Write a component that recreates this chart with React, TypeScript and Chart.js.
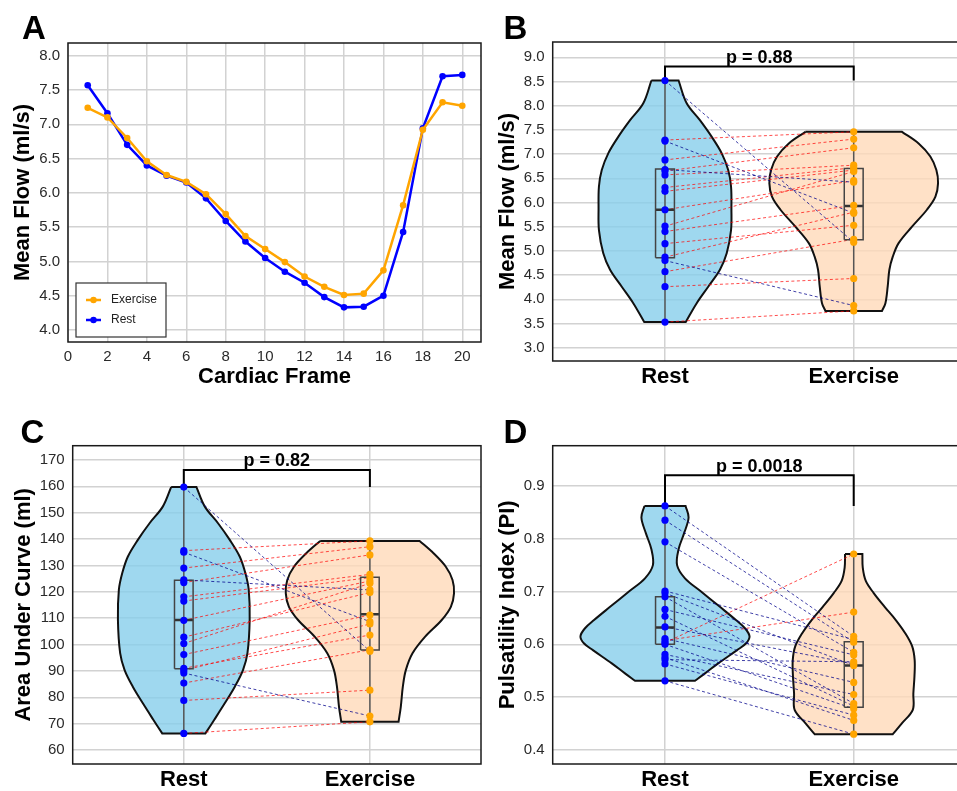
import React, { useEffect, useRef } from 'react';
import { Chart, registerables } from 'chart.js';

Chart.register(...registerables);

const FONT = '"Liberation Sans", Arial, Helvetica, sans-serif';
const BLUE = '#0000FF';
const ORANGE = '#FFA500';
const GRID = '#d2d2d2';
const TICK = '#2a2a2a';
const RED_PAIR = 'rgba(255,0,0,0.7)';
const NAVY_PAIR = 'rgba(0,0,139,0.75)';
const REST_FILL = 'rgba(135,206,235,0.8)';
const EX_FILL = 'rgba(255,218,185,0.8)';
const BOX_HALF = 0.05;

// ---------------- Panel A : mean flow over the cardiac cycle ----------------
const cardiacFrames = [1, 2, 3, 4, 5, 6, 7, 8, 9, 10, 11, 12, 13, 14, 15, 16, 17, 18, 19, 20];
const exerciseCurve = [7.24, 7.10, 6.80, 6.46, 6.26, 6.16, 5.98, 5.69, 5.37, 5.18, 4.99, 4.78, 4.63, 4.51, 4.53, 4.87, 5.82, 6.92, 7.32, 7.27];
const restCurve = [7.57, 7.16, 6.70, 6.40, 6.25, 6.15, 5.92, 5.59, 5.29, 5.05, 4.85, 4.69, 4.48, 4.33, 4.34, 4.50, 5.43, 6.94, 7.70, 7.72];
const frameTicks = [0, 2, 4, 6, 8, 10, 12, 14, 16, 18, 20];
const curveTicks = [4.0, 4.5, 5.0, 5.5, 6.0, 6.5, 7.0, 7.5, 8.0];

// ---------------- shared categories ----------------
const groups = ['Rest', 'Exercise'];

// ---------------- Panel B : mean flow ----------------
const flowRest = [8.52, 7.29, 7.27, 6.88, 6.68, 6.65, 6.57, 6.31, 6.23, 5.85, 5.51, 5.40, 5.15, 4.87, 4.80, 4.57, 4.26, 3.53];
const flowExercise = [5.18, 7.46, 5.78, 7.31, 6.42, 7.13, 6.77, 6.72, 6.67, 6.45, 6.64, 5.94, 5.53, 5.80, 3.87, 5.24, 4.43, 3.76];
const flowRestBox = [4.86, 5.85, 6.69];
const flowExerciseBox = [5.23, 5.93, 6.70];
const flowRestViolinY = [8.52, 8.05, 7.70, 7.36, 7.02, 6.67, 6.33, 5.88, 5.43, 4.95, 4.61, 4.26, 3.92, 3.53];
const flowRestViolinW = [0.072, 0.115, 0.185, 0.247, 0.300, 0.335, 0.350, 0.352, 0.350, 0.327, 0.291, 0.229, 0.168, 0.110];
const flowExViolinY = [7.46, 7.22, 6.95, 6.67, 6.40, 6.12, 5.85, 5.50, 5.16, 4.88, 4.61, 4.26, 3.92, 3.76];
const flowExViolinW = [0.256, 0.344, 0.406, 0.438, 0.447, 0.433, 0.388, 0.309, 0.238, 0.207, 0.189, 0.180, 0.168, 0.150];
const flowTicks = [3.0, 3.5, 4.0, 4.5, 5.0, 5.5, 6.0, 6.5, 7.0, 7.5, 8.0, 8.5, 9.0];
const flowBracket = [8.52, 8.81];
const flowP = 'p = 0.88';

// ---------------- Panel C : area under curve ----------------
const aucRest = [159.7, 135.6, 135.0, 129.0, 124.5, 123.5, 118.1, 116.5, 109.2, 102.8, 100.4, 96.2, 91.0, 90.2, 89.2, 85.4, 78.8, 66.3];
const aucExercise = [97.5, 139.3, 108.7, 137.1, 120.7, 134.0, 126.6, 125.4, 124.1, 119.7, 123.2, 111.2, 103.6, 107.8, 72.9, 98.0, 82.7, 70.7];
const aucRestBox = [90.8, 109.3, 124.4];
const aucExerciseBox = [97.9, 111.5, 125.5];
const aucRestViolinY = [159.7, 152.3, 146.0, 139.7, 133.3, 127.0, 120.7, 109.3, 96.7, 90.3, 84.0, 77.7, 71.4, 66.3];
const aucRestViolinW = [0.068, 0.113, 0.184, 0.247, 0.301, 0.331, 0.349, 0.354, 0.342, 0.318, 0.274, 0.220, 0.163, 0.116];
const aucExViolinY = [139.3, 134.6, 129.5, 124.5, 119.4, 114.3, 109.3, 103.0, 96.7, 90.3, 84.0, 76.4, 70.7];
const aucExViolinW = [0.267, 0.342, 0.408, 0.444, 0.452, 0.435, 0.386, 0.297, 0.229, 0.193, 0.177, 0.166, 0.154];
const aucTicks = [60, 70, 80, 90, 100, 110, 120, 130, 140, 150, 160, 170];
const aucBracket = [159.7, 166.2];
const aucP = 'p = 0.82';

// ---------------- Panel D : pulsatility index ----------------
const piRest = [0.862, 0.835, 0.794, 0.701, 0.697, 0.690, 0.666, 0.653, 0.633, 0.611, 0.607, 0.603, 0.600, 0.581, 0.575, 0.571, 0.563, 0.531];
const piExercise = [0.615, 0.604, 0.585, 0.609, 0.560, 0.488, 0.580, 0.483, 0.563, 0.528, 0.661, 0.771, 0.478, 0.505, 0.456, 0.567, 0.466, 0.430];
const piRestBox = [0.600, 0.632, 0.690];
const piExerciseBox = [0.481, 0.560, 0.605];
const piRestViolinY = [0.862, 0.840, 0.810, 0.780, 0.750, 0.725, 0.700, 0.671, 0.646, 0.630, 0.615, 0.602, 0.589, 0.564, 0.545, 0.531];
const piRestViolinW = [0.109, 0.125, 0.101, 0.072, 0.064, 0.106, 0.191, 0.291, 0.376, 0.425, 0.448, 0.430, 0.382, 0.282, 0.212, 0.159];
const piExViolinY = [0.771, 0.745, 0.720, 0.697, 0.671, 0.646, 0.621, 0.596, 0.570, 0.540, 0.507, 0.476, 0.450, 0.430];
const piExViolinW = [0.046, 0.048, 0.064, 0.106, 0.164, 0.223, 0.273, 0.310, 0.323, 0.322, 0.316, 0.313, 0.254, 0.207];
const piTicks = [0.4, 0.5, 0.6, 0.7, 0.8, 0.9];
const piBracket = [0.862, 0.92];
const piP = 'p = 0.0018';

type Pt = { x: number; y: number };

function violinOutline(center: number, ys: number[], ws: number[]): Pt[] {
  const n = ys.length;
  const pts: Pt[] = [];
  pts.push({ x: center - ws[0], y: ys[0] });
  pts.push({ x: center + ws[0], y: ys[0] });
  for (let i = 0; i < n; i++) pts.push({ x: center + ws[i], y: ys[i] });
  pts.push({ x: center + ws[n - 1], y: ys[n - 1] });
  pts.push({ x: center - ws[n - 1], y: ys[n - 1] });
  for (let i = n - 1; i >= 0; i--) pts.push({ x: center - ws[i], y: ys[i] });
  return pts;
}

const framePlugin = {
  id: 'frame',
  afterDatasetsDraw(chart: any) {
    const { ctx, chartArea: a } = chart;
    ctx.save();
    ctx.strokeStyle = '#1a1a1a';
    ctx.lineWidth = 1.5;
    ctx.strokeRect(a.left, a.top, a.right - a.left, a.bottom - a.top);
    ctx.restore();
  },
};

function pLabelPlugin(text: string, bracket: number[]) {
  return {
    id: 'pLabel',
    afterDatasetsDraw(chart: any) {
      const { ctx } = chart;
      const x = chart.scales.x.getPixelForValue(0.5);
      const y = chart.scales.y.getPixelForValue(bracket[1]);
      ctx.save();
      ctx.font = `bold 18px ${FONT}`;
      ctx.fillStyle = '#000';
      ctx.textAlign = 'center';
      ctx.textBaseline = 'alphabetic';
      ctx.fillText(text, x, y - 3.5);
      ctx.restore();
    },
  };
}

const insideLegendPlugin = {
  id: 'insideLegend',
  afterDatasetsDraw(chart: any) {
    const { ctx, chartArea: a } = chart;
    const x0 = a.left + 8;
    const y0 = a.bottom - 59;
    const w = 90;
    const h = 54;
    ctx.save();
    ctx.fillStyle = '#fff';
    ctx.fillRect(x0, y0, w, h);
    ctx.strokeStyle = '#333';
    ctx.lineWidth = 1.2;
    ctx.strokeRect(x0, y0, w, h);
    chart.data.datasets.forEach((ds: any, i: number) => {
      const cy = y0 + 17 + i * 20;
      ctx.strokeStyle = ds.borderColor;
      ctx.lineWidth = 2.5;
      ctx.beginPath();
      ctx.moveTo(x0 + 10, cy);
      ctx.lineTo(x0 + 25, cy);
      ctx.stroke();
      ctx.fillStyle = ds.borderColor;
      ctx.beginPath();
      ctx.arc(x0 + 17.5, cy, 3.2, 0, Math.PI * 2);
      ctx.fill();
      ctx.fillStyle = '#222';
      ctx.font = `12px ${FONT}`;
      ctx.textAlign = 'left';
      ctx.textBaseline = 'middle';
      ctx.fillText(ds.label, x0 + 35, cy);
    });
    ctx.restore();
  },
};

function yTitle(text: string, padTop: number) {
  return { display: true, text, color: '#000', font: { family: FONT, size: 22, weight: 'bold' }, padding: { top: padTop, bottom: 0 } };
}

function configA(): any {
  return {
    type: 'line',
    data: {
      datasets: [
        {
          label: 'Exercise',
          data: cardiacFrames.map((f, i) => ({ x: f, y: exerciseCurve[i] })),
          borderColor: ORANGE, backgroundColor: ORANGE, pointBackgroundColor: ORANGE,
          borderWidth: 2.5, pointRadius: 3.3, pointBorderWidth: 0, tension: 0,
        },
        {
          label: 'Rest',
          data: cardiacFrames.map((f, i) => ({ x: f, y: restCurve[i] })),
          borderColor: BLUE, backgroundColor: BLUE, pointBackgroundColor: BLUE,
          borderWidth: 2.5, pointRadius: 3.3, pointBorderWidth: 0, tension: 0,
        },
      ],
    },
    options: {
      responsive: false, animation: false, events: [],
      layout: { padding: { top: 43, right: 3.3, left: 0, bottom: 0 } },
      plugins: { legend: { display: false }, tooltip: { enabled: false } },
      scales: {
        x: {
          type: 'linear', min: 0, max: 20.95,
          afterBuildTicks: (s: any) => { s.ticks = frameTicks.map((v) => ({ value: v })); },
          afterFit: (s: any) => { s.height = 58; },
          ticks: { autoSkip: false, maxRotation: 0, color: TICK, font: { family: FONT, size: 15 }, padding: 6, callback: (v: any) => String(v) },
          grid: { color: GRID, lineWidth: 1.5, drawTicks: false },
          border: { display: false },
          title: { display: true, text: 'Cardiac Frame', color: '#000', font: { family: FONT, size: 22, weight: 'bold' }, padding: { top: 0, bottom: 10 } },
        },
        y: {
          type: 'linear', min: 3.825, max: 8.185,
          afterBuildTicks: (s: any) => { s.ticks = curveTicks.map((v) => ({ value: v })); },
          afterFit: (s: any) => { s.width = 68; },
          ticks: { autoSkip: false, color: TICK, font: { family: FONT, size: 15 }, padding: 8, callback: (v: any) => Number(v).toFixed(1) },
          grid: { color: GRID, lineWidth: 1.5, drawTicks: false },
          border: { display: false },
          title: yTitle('Mean Flow (ml/s)', 10),
        },
      },
    },
    plugins: [framePlugin, insideLegendPlugin],
  };
}

type ViolinSpec = {
  rest: number[]; exercise: number[];
  restBox: number[]; exBox: number[];
  restVY: number[]; restVW: number[]; exVY: number[]; exVW: number[];
  ticks: number[]; decimals: number; yMin: number; yMax: number;
  title: string; titlePad: number; p: string; bracket: number[];
  padTop: number; padRight: number; yWidth: number; xHeight: number;
  xMin: number; xMax: number;
};

function violinConfig(s: ViolinSpec): any {
  const datasets: any[] = [];
  datasets.push({ data: s.rest.map((v) => ({ x: 0, y: v })), showLine: false, pointRadius: 3.6, pointBorderWidth: 0, pointBackgroundColor: BLUE, order: 0 });
  datasets.push({ data: s.exercise.map((v) => ({ x: 1, y: v })), showLine: false, pointRadius: 3.6, pointBorderWidth: 0, pointBackgroundColor: ORANGE, order: 0 });
  const sets = [
    { c: 0, vals: s.rest, box: s.restBox },
    { c: 1, vals: s.exercise, box: s.exBox },
  ];
  sets.forEach(({ c, vals, box }) => {
    const [q1, med, q3] = box;
    datasets.push({
      data: [{ x: c - BOX_HALF, y: q1 }, { x: c + BOX_HALF, y: q1 }, { x: c + BOX_HALF, y: q3 }, { x: c - BOX_HALF, y: q3 }, { x: c - BOX_HALF, y: q1 }],
      borderColor: '#444', borderWidth: 1.5, pointRadius: 0, tension: 0, fill: false, order: 1,
    });
    datasets.push({ data: [{ x: c - BOX_HALF, y: med }, { x: c + BOX_HALF, y: med }], borderColor: '#333', borderWidth: 2.5, pointRadius: 0, fill: false, order: 1 });
    datasets.push({ data: [{ x: c, y: Math.min(...vals) }, { x: c, y: Math.max(...vals) }], borderColor: '#555', borderWidth: 1.5, pointRadius: 0, fill: false, order: 1 });
  });
  s.rest.forEach((r, i) => {
    const e = s.exercise[i];
    datasets.push({
      data: [{ x: 0, y: r }, { x: 1, y: e }],
      borderColor: e >= r ? RED_PAIR : NAVY_PAIR, borderWidth: 1, borderDash: [3, 2.5], pointRadius: 0, fill: false, order: 2,
    });
  });
  datasets.push({ data: violinOutline(0, s.restVY, s.restVW), fill: 'shape', backgroundColor: REST_FILL, borderColor: '#111', borderWidth: 2, tension: 0.35, pointRadius: 0, order: 3 });
  datasets.push({ data: violinOutline(1, s.exVY, s.exVW), fill: 'shape', backgroundColor: EX_FILL, borderColor: '#111', borderWidth: 2, tension: 0.35, pointRadius: 0, order: 3 });
  datasets.push({
    data: [{ x: 0, y: s.bracket[0] }, { x: 0, y: s.bracket[1] }, { x: 1, y: s.bracket[1] }, { x: 1, y: s.bracket[0] }],
    borderColor: '#000', borderWidth: 2, pointRadius: 0, tension: 0, fill: false, order: 4,
  });

  return {
    type: 'line',
    data: { datasets },
    options: {
      responsive: false, animation: false, events: [],
      layout: { padding: { top: s.padTop, right: s.padRight, left: 0, bottom: 0 } },
      plugins: { legend: { display: false }, tooltip: { enabled: false } },
      scales: {
        x: {
          type: 'linear', min: s.xMin, max: s.xMax,
          afterBuildTicks: (sc: any) => { sc.ticks = groups.map((_, i) => ({ value: i })); },
          afterFit: (sc: any) => { sc.height = s.xHeight; },
          ticks: { autoSkip: false, maxRotation: 0, color: '#000', font: { family: FONT, size: 22, weight: 'bold' }, padding: 3, callback: (v: any) => groups[Math.round(Number(v))] },
          grid: { color: GRID, lineWidth: 1.5, drawTicks: false },
          border: { display: false },
        },
        y: {
          type: 'linear', min: s.yMin, max: s.yMax,
          afterBuildTicks: (sc: any) => { sc.ticks = s.ticks.map((v) => ({ value: v })); },
          afterFit: (sc: any) => { sc.width = s.yWidth; },
          ticks: { autoSkip: false, color: TICK, font: { family: FONT, size: 15 }, padding: 8, callback: (v: any) => Number(v).toFixed(s.decimals) },
          grid: { color: GRID, lineWidth: 1.5, drawTicks: false },
          border: { display: false },
          title: yTitle(s.title, s.titlePad),
        },
      },
    },
    plugins: [framePlugin, pLabelPlugin(s.p, s.bracket)],
  };
}

const specB: ViolinSpec = {
  rest: flowRest, exercise: flowExercise, restBox: flowRestBox, exBox: flowExerciseBox,
  restVY: flowRestViolinY, restVW: flowRestViolinW, exVY: flowExViolinY, exVW: flowExViolinW,
  ticks: flowTicks, decimals: 1, yMin: 2.725, yMax: 9.316,
  title: 'Mean Flow (ml/s)', titlePad: 14.5, p: flowP, bracket: flowBracket,
  padTop: 42, padRight: 9, yWidth: 72.7, xHeight: 39, xMin: -0.595, xMax: 1.595,
};
const specC: ViolinSpec = {
  rest: aucRest, exercise: aucExercise, restBox: aucRestBox, exBox: aucExerciseBox,
  restVY: aucRestViolinY, restVW: aucRestViolinW, exVY: aucExViolinY, exVW: aucExViolinW,
  ticks: aucTicks, decimals: 0, yMin: 54.7, yMax: 175.4,
  title: 'Area Under Curve (ml)', titlePad: 10.3, p: aucP, bracket: aucBracket,
  padTop: 45.7, padRight: 3.5, yWidth: 72.7, xHeight: 27, xMin: -0.597, xMax: 1.597,
};
const specD: ViolinSpec = {
  rest: piRest, exercise: piExercise, restBox: piRestBox, exBox: piExerciseBox,
  restVY: piRestViolinY, restVW: piRestViolinW, exVY: piExViolinY, exVW: piExViolinW,
  ticks: piTicks, decimals: 1, yMin: 0.3735, yMax: 0.976,
  title: 'Pulsatility Index (PI)', titlePad: 14.5, p: piP, bracket: piBracket,
  padTop: 45.7, padRight: 9, yWidth: 72.7, xHeight: 27, xMin: -0.595, xMax: 1.595,
};

const letterStyle: React.CSSProperties = {
  position: 'absolute', fontSize: 33, lineHeight: '33px', fontWeight: 'bold', color: '#000', fontFamily: FONT,
};

export default function App() {
  const refA = useRef<HTMLCanvasElement>(null);
  const refB = useRef<HTMLCanvasElement>(null);
  const refC = useRef<HTMLCanvasElement>(null);
  const refD = useRef<HTMLCanvasElement>(null);

  useEffect(() => {
    const charts = [
      new Chart(refA.current as HTMLCanvasElement, configA()),
      new Chart(refB.current as HTMLCanvasElement, violinConfig(specB)),
      new Chart(refC.current as HTMLCanvasElement, violinConfig(specC)),
      new Chart(refD.current as HTMLCanvasElement, violinConfig(specD)),
    ];
    return () => charts.forEach((c) => c.destroy());
  }, []);

  return (
    <div style={{ position: 'absolute', left: 0, top: 0, width: 957, height: 791, overflow: 'hidden', background: '#fff', fontFamily: FONT }}>
      <canvas ref={refA} width={485} height={400} style={{ position: 'absolute', left: 0, top: 0 }} />
      <canvas ref={refB} width={495} height={400} style={{ position: 'absolute', left: 480, top: 0 }} />
      <canvas ref={refC} width={485} height={391} style={{ position: 'absolute', left: 0, top: 400 }} />
      <canvas ref={refD} width={495} height={391} style={{ position: 'absolute', left: 480, top: 400 }} />
      <div style={{ ...letterStyle, left: 22, top: 10.7 }}>A</div>
      <div style={{ ...letterStyle, left: 503.6, top: 10.7 }}>B</div>
      <div style={{ ...letterStyle, left: 20.4, top: 414.7 }}>C</div>
      <div style={{ ...letterStyle, left: 503.5, top: 414.7 }}>D</div>
    </div>
  );
}
